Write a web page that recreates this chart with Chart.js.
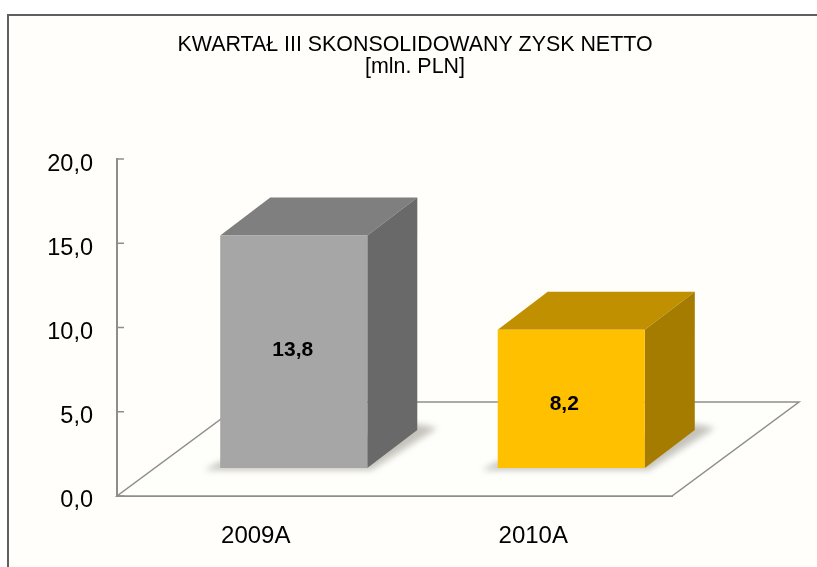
<!DOCTYPE html>
<html><head><meta charset="utf-8">
<style>
html,body{margin:0;padding:0;background:#fff;overflow:hidden}
#panel{position:absolute;left:7px;top:14px;width:810px;height:553px;border-left:2px solid #5f5f5f;border-top:2px solid #5f5f5f;background:#fffefa}
#wrap{position:absolute;left:0;top:0;width:817px;height:567px}
</style>
<script src="https://cdn.jsdelivr.net/npm/chart.js@4"></script>
</head><body>
<div id="panel"></div>
<div id="wrap"><canvas id="c" width="817" height="567"></canvas></div>
<script>
const titleLines = ['KWARTAŁ III SKONSOLIDOWANY ZYSK NETTO', '[mln. PLN]'];
const categories = ['2009A', '2010A'];
const values = [13.8, 8.2];
const yMin = 0, yMax = 20, yStep = 5;
const frontColors = ['#a6a6a6', '#ffc000'];
const topColors = ['#7f7f7f', '#c09000'];
const sideColors = ['#696969', '#a67c00'];

// 3-D look: depth of the floor, offset of the bars on it, depth of each bar
const FLOOR = {dx: 127, dy: -94};
const BAR_SHIFT = {x: 38, y: -28};
const BAR_DEPTH = {dx: 50, dy: -38};
const LABEL_NUDGE = [{x: -1, y: -2}, {x: -7, y: 5}];
const AXIS = '#8e8e8e';
const fmt = v => v.toFixed(1).replace('.', ',');

const scene = {
  id: 'scene',
  beforeDatasetsDraw(chart) {
    const {ctx, chartArea: a, scales: {y}} = chart;
    const y0 = y.getPixelForValue(0);
    ctx.save();
    // floor
    ctx.beginPath();
    ctx.moveTo(a.left, y0);
    ctx.lineTo(a.right, y0);
    ctx.lineTo(a.right + FLOOR.dx, y0 + FLOOR.dy);
    ctx.lineTo(a.left + FLOOR.dx, y0 + FLOOR.dy);
    ctx.closePath();
    ctx.fillStyle = '#fefefb';
    ctx.fill();
    ctx.strokeStyle = AXIS;
    ctx.lineWidth = 1.5;
    ctx.stroke();
    // inward ticks on the value axis
    ctx.beginPath();
    ctx.lineWidth = 1.5;
    y.ticks.forEach(t => {
      const p = y.getPixelForValue(t.value);
      ctx.moveTo(a.left, p);
      ctx.lineTo(a.left + 7, p);
    });
    ctx.stroke();
    // soft shadows on the floor
    const meta = chart.getDatasetMeta(0);
    meta.data.forEach(b => {
      const l = b.x - b.width / 2 + BAR_SHIFT.x, r = b.x + b.width / 2 + BAR_SHIFT.x, bot = b.base + BAR_SHIFT.y;
      ctx.save();
      ctx.filter = 'blur(3px)';
      ctx.fillStyle = '#c4c3bb';
      ctx.beginPath();
      ctx.moveTo(l - 16, bot + 2);
      ctx.lineTo(r + 4, bot + 2);
      ctx.lineTo(r + BAR_DEPTH.dx + 20, bot + BAR_DEPTH.dy - 2);
      ctx.lineTo(r + BAR_DEPTH.dx, bot + BAR_DEPTH.dy - 6);
      ctx.lineTo(l, bot - 6);
      ctx.closePath();
      ctx.fill();
      ctx.restore();
    });
    ctx.restore();
    // bars stand further back on the floor than the front axis line
    ctx.save();
    ctx.translate(BAR_SHIFT.x, BAR_SHIFT.y);
    meta.data.forEach((b, i) => {
      const l = b.x - b.width / 2, r = b.x + b.width / 2, t = b.y, bot = b.base;
      const d = BAR_DEPTH;
      ctx.fillStyle = topColors[i];
      ctx.beginPath();
      ctx.moveTo(l, t); ctx.lineTo(l + d.dx, t + d.dy); ctx.lineTo(r + d.dx, t + d.dy); ctx.lineTo(r, t);
      ctx.closePath(); ctx.fill();
      ctx.fillStyle = sideColors[i];
      ctx.beginPath();
      ctx.moveTo(r, t); ctx.lineTo(r + d.dx, t + d.dy); ctx.lineTo(r + d.dx, bot + d.dy); ctx.lineTo(r, bot);
      ctx.closePath(); ctx.fill();
    });
  },
  afterDatasetsDraw(chart) {
    const {ctx} = chart;
    const meta = chart.getDatasetMeta(0);
    ctx.fillStyle = '#000';
    ctx.font = 'bold 21px "Liberation Sans", Arial, sans-serif';
    ctx.textAlign = 'center';
    ctx.textBaseline = 'middle';
    meta.data.forEach((b, i) => {
      ctx.fillText(fmt(values[i]), b.x + LABEL_NUDGE[i].x, (b.y + b.base) / 2 + LABEL_NUDGE[i].y);
    });
    ctx.restore();
  }
};

new Chart(document.getElementById('c'), {
  type: 'bar',
  data: {labels: categories, datasets: [{
    data: values,
    backgroundColor: frontColors,
    borderWidth: 0,
    barPercentage: 0.53,
    categoryPercentage: 1
  }]},
  plugins: [scene],
  options: {
    responsive: false,
    animation: false,
    layout: {padding: {left: 13, right: 0, top: 0, bottom: 0}},
    plugins: {
      legend: {display: false},
      tooltip: {enabled: false},
      title: {
        display: true,
        text: titleLines,
        color: '#000',
        font: {family: '"Liberation Sans", Arial, sans-serif', size: 21.4, weight: 'normal', lineHeight: 1.03},
        padding: {top: 34, bottom: 81}
      }
    },
    scales: {
      x: {
        afterFit(s) { s.height = 71; },
        grid: {display: false, drawTicks: false},
        border: {display: true, color: AXIS, width: 2},
        ticks: {color: '#000', padding: 26, font: {family: '"Liberation Sans", Arial, sans-serif', size: 24}}
      },
      y: {
        min: yMin, max: yMax,
        afterFit(s) { s.width = 104; },
        grid: {display: false, drawTicks: false},
        border: {display: true, color: AXIS, width: 2},
        ticks: {stepSize: yStep, color: '#000', padding: 24, labelOffset: 5, callback: fmt,
          font: {family: '"Liberation Sans", Arial, sans-serif', size: 23.5}}
      },
      yRight: {
        position: 'right',
        afterFit(s) { s.width = 145; },
        grid: {display: false},
        border: {display: false},
        ticks: {display: false}
      }
    }
  }
});
</script>
</body></html>
